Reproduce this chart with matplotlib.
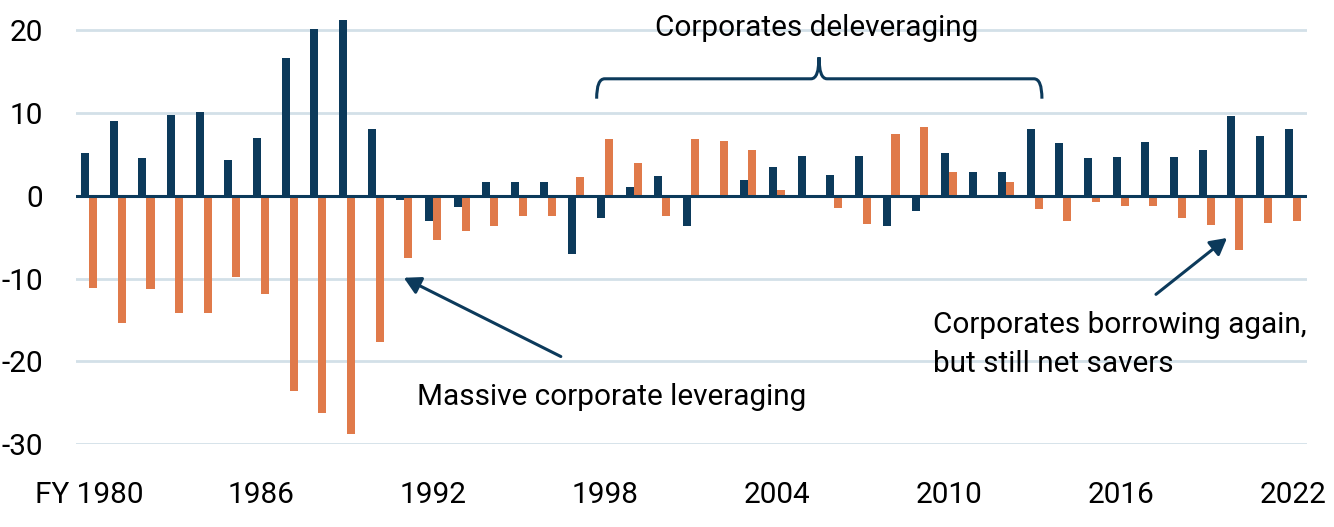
import matplotlib
matplotlib.use("Agg")
import matplotlib.pyplot as plt
from matplotlib.path import Path
from matplotlib.patches import PathPatch
import numpy as np

years = list(range(1980, 2023))
navy_values = [5.1, 9.0, 4.6, 9.7, 10.1, 4.3, 7.0, 16.6, 20.1, 21.2, 8.0, -0.5, -3.1,
               -1.4, 1.7, 1.6, 1.6, -7.0, -2.7, 1.1, 2.4, -3.6, -0.2, 1.9, 3.5, 4.8, 2.5,
               4.8, -3.6, -1.9, 5.1, 2.8, 2.8, 8.0, 6.3, 4.5, 4.7, 6.5, 4.7, 5.5, 9.65, 7.2, 8.1]
orange_values = [-11.1, -15.4, -11.3, -14.2, -14.1, -9.8, -11.8, -23.5, -26.2, -28.7, -17.6, -7.5, -5.3,
                 -4.2, -3.7, -2.5, -2.5, 2.3, 6.8, 4.0, -2.5, 6.8, 6.6, 5.5, 0.7, 0.0, -1.5,
                 -3.4, 7.5, 8.25, 2.9, 0.0, 1.6, -1.6, -3.1, -0.8, -1.2, -1.3, -2.7, -3.5, -6.6, -3.3, -3.1]
tick_years = [1980, 1986, 1992, 1998, 2004, 2010, 2016, 2022]
tick_labels = ["FY 1980", "1986", "1992", "1998", "2004", "2010", "2016", "2022"]
y_ticks = [-30, -20, -10, 0, 10, 20]

NAVY = "#0c3a5b"
ORANGE = "#e07a4a"
GRID = "#d3e0e8"

plt.rcParams['font.family'] = ['Roboto', 'DejaVu Sans']
FS = 21.4

fig = plt.figure(figsize=(13.34, 5.27), dpi=100)
W, H = 1334, 527
left_px, right_px = 76, 1306.7
top_px, bot_px = 13.3, 444.4
ax = fig.add_axes([left_px / W, 1 - bot_px / H, (right_px - left_px) / W, (bot_px - top_px) / H])

x = np.array(years, dtype=float)
bw = 0.28
ax.bar(x - bw / 2, navy_values, width=bw, color=NAVY, zorder=3)
ax.bar(x + bw / 2, orange_values, width=bw, color=ORANGE, zorder=3)

ax.set_xlim(1979.54, 2022.49)
ax.set_ylim(-30, 22)
ax.set_yticks(y_ticks)
ax.set_yticklabels([str(v) for v in y_ticks], fontsize=FS)
ax.set_xticks(tick_years)
ax.set_xticklabels(tick_labels, fontsize=FS)
ax.tick_params(axis='y', length=0, pad=24)
ax.tick_params(axis='x', length=0, pad=26)
for s in ax.spines.values():
    s.set_visible(False)
for v in y_ticks:
    if v != 0:
        ax.axhline(v, color=GRID, lw=2, zorder=1)
ax.axhline(0, color=NAVY, lw=2.2, zorder=4)

# annotations
ax.annotate("", xy=(1990.98, -9.9), xytext=(1996.46, -19.4),
            arrowprops=dict(arrowstyle="-|>,head_length=1.0,head_width=0.55", color=NAVY, lw=2.2,
                            shrinkA=0, shrinkB=0), zorder=5)
ax.annotate("", xy=(2019.71, -5.1), xytext=(2017.23, -11.9),
            arrowprops=dict(arrowstyle="-|>,head_length=1.0,head_width=0.55", color=NAVY, lw=2.2,
                            shrinkA=0, shrinkB=0), zorder=5)
ax.text(1991.44, -24.3, "Massive corporate leveraging", fontsize=FS, ha="left", va="center", color="black")
ax.text(2009.45, -17.95, "Corporates borrowing again,\nbut still net savers", fontsize=FS,
        ha="left", va="center", color="black", linespacing=1.47)
ax.text(2005.4, 20.2, "Corporates deleveraging", fontsize=FS, ha="center", va="center",
        color="black", clip_on=False, zorder=6)

# brace
xl, xm, xr = 1997.71, 2005.47, 2013.25
yb, yh, yp = 11.7, 14.1, 16.7
dx = 0.28
verts = [(xl, yb), (xl, yh), (xl + dx, yh),
         (xm - dx, yh), (xm, yh), (xm, yp),
         (xm, yh), (xm + dx, yh),
         (xr - dx, yh), (xr, yh), (xr, yb)]
codes = [Path.MOVETO, Path.CURVE3, Path.CURVE3,
         Path.LINETO, Path.CURVE3, Path.CURVE3,
         Path.CURVE3, Path.CURVE3,
         Path.LINETO, Path.CURVE3, Path.CURVE3]
ax.add_patch(PathPatch(Path(verts, codes), facecolor="none", edgecolor=NAVY, lw=2.2,
                       clip_on=False, zorder=5))

fig.savefig("out.png", dpi=100)
